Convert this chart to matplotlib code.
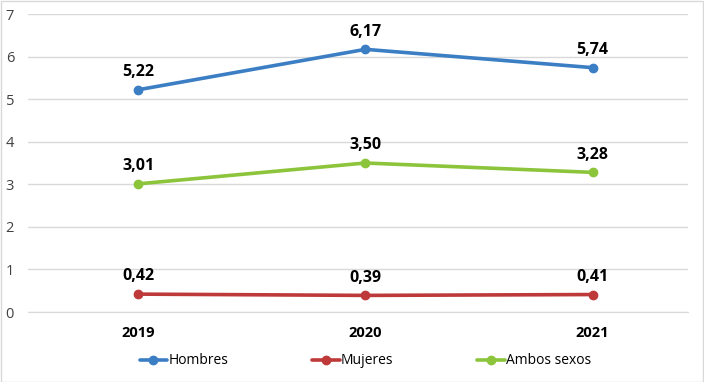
import matplotlib as mpl
import matplotlib.pyplot as plt
import numpy as np

# values per year
years = ['2019', '2020', '2021']
hombres = [5.22, 6.17, 5.74]
mujeres = [0.42, 0.39, 0.41]
ambos = [3.01, 3.50, 3.28]

plt.rcParams['font.family'] = ['Open Sans', 'DejaVu Sans']

fig = plt.figure(figsize=(7.04, 3.82), dpi=100)
ax = fig.add_axes([28 / 704, 1 - 312 / 382, 660 / 704, 298 / 382])

series = [
    (hombres, 'Hombres', '#3C7EC4'),
    (mujeres, 'Mujeres', '#BE3A3A'),
    (ambos, 'Ambos sexos', '#8CC43C'),
]
x = np.arange(len(years))
for vals, name, col in series:
    ax.plot(x, vals, color=col, lw=2.6, marker='o', ms=6,
            markeredgecolor=col, label=name, solid_capstyle='round')
    for xi, v in zip(x, vals):
        ax.annotate(f'{v:.2f}'.replace('.', ','), (xi, v), xytext=(0, 7),
                    textcoords='offset points', ha='center', va='bottom',
                    fontsize=11.5, fontweight='bold')

ax.set_xlim(-0.485, 2.42)
ax.set_ylim(0, 7)
ax.set_yticks(range(8))
ax.set_xticks(x)
ax.set_xticklabels(years, fontweight='bold', fontsize=10.5)
ax.tick_params(axis='x', length=0, pad=10)
ax.tick_params(axis='y', length=0, labelcolor='#404040', labelsize=10.5, pad=10)
ax.grid(axis='y', color='#d9d9d9', lw=1)
ax.set_axisbelow(True)
for s in ['top', 'right', 'left']:
    ax.spines[s].set_visible(False)
ax.spines['bottom'].set_color('#d9d9d9')

fig.legend(loc='center', bbox_to_anchor=(0.519, 1 - 361 / 382), ncol=3,
           frameon=False, fontsize=10, handlelength=2.0, handletextpad=0.1,
           columnspacing=6.0)

# outer frame
fig.patches.append(mpl.patches.Rectangle((0.001, 0.001), 0.997, 0.997,
                   transform=fig.transFigure, fill=False, ec='#d9d9d9', lw=1))

fig.savefig('out.png', dpi=100)
